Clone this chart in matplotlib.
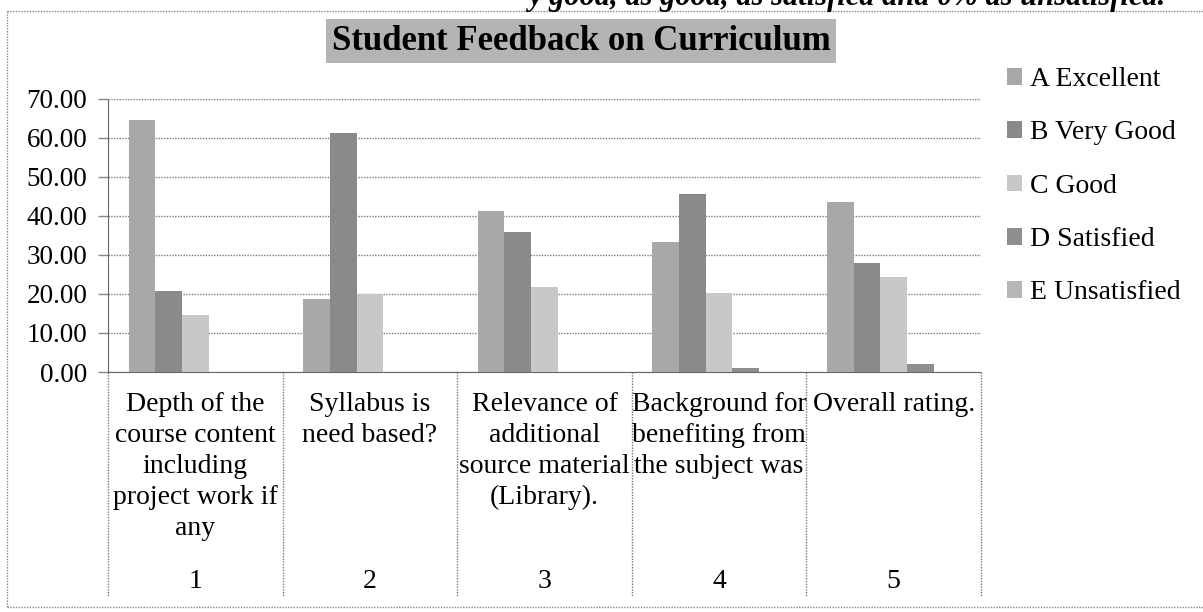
import numpy as np
import matplotlib
matplotlib.use("Agg")
import matplotlib.pyplot as plt
from matplotlib.lines import Line2D
from matplotlib.patches import Patch

plt.rcParams['font.family'] = ['Liberation Serif', 'DejaVu Serif']

# Data
questions = [
    "Depth of the\ncourse content\nincluding\nproject work if\nany",
    "Syllabus is\nneed based?",
    "Relevance of\nadditional\nsource material\n(Library).",
    "Background for\nbenefiting from\nthe subject was",
    "Overall rating.",
]
question_no = ["1", "2", "3", "4", "5"]
series_names = ["A Excellent", "B Very Good", "C Good", "D Satisfied", "E Unsatisfied"]
excellent = [64.6, 18.6, 41.4, 33.3, 43.5]
very_good = [20.7, 61.4, 35.9, 45.6, 27.9]
good = [14.5, 20.1, 21.8, 20.2, 24.4]
satisfied = [0.0, 0.0, 0.0, 1.1, 2.0]
unsatisfied = [0.0, 0.0, 0.0, 0.0, 0.0]
yticks = [0, 10, 20, 30, 40, 50, 60, 70]

values = [excellent, very_good, good, satisfied, unsatisfied]
colors = ['#a8a8a8', '#8a8a8a', '#c8c8c8', '#8e8e8e', '#b6b6b6']

W, H = 1203, 612
fig = plt.figure(figsize=(W / 100, H / 100), dpi=100)

# plot area in pixels
left, right, top, bottom = 108, 981, 99, 372
ax = fig.add_axes([left / W, 1 - bottom / H, (right - left) / W, (bottom - top) / H])

x = np.arange(len(questions))
bw = 0.153
for i, (name, vals) in enumerate(zip(series_names, values)):
    ax.bar(x + (i - 2) * bw, vals, bw, color=colors[i], label=name, zorder=3)

ax.set_xlim(-0.5, len(questions) - 0.5)
ax.set_ylim(0, 70)
ax.set_yticks(yticks)
ax.set_yticklabels(["%.2f" % t for t in yticks], fontsize=19.5)
ax.tick_params(axis='y', length=7, width=1, color='#888888', direction='out', pad=8)
ax.set_xticks([])
ax.yaxis.grid(True, linestyle=(0, (1, 1)), color='#7a7a7a', linewidth=1, zorder=0)
for s in ['top', 'right']:
    ax.spines[s].set_visible(False)
for s in ['left', 'bottom']:
    ax.spines[s].set_linestyle((0, (1, 1)))
    ax.spines[s].set_color('#666666')

# category table below the axis
ah = bottom - top
tr = ax.get_xaxis_transform()
for b in np.arange(-0.5, len(questions), 1.0):
    ax.add_line(Line2D([b, b], [0, -(597 - bottom) / ah], transform=tr, color='#777777',
                       linestyle=(0, (1, 1)), linewidth=1, clip_on=False))
for i, (q, n) in enumerate(zip(questions, question_no)):
    ax.text(i, -(392 - bottom) / ah, q, transform=tr, ha='center', va='top',
            fontsize=20, linespacing=1.32)
    ax.text(i, -(582 - bottom) / ah, n, transform=tr, ha='center', va='center', fontsize=20)

# title with shaded box
fig.text(581 / W, 1 - 41 / H, "Student Feedback on Curriculum", ha='center', va='center',
         fontsize=25, fontweight='bold',
         bbox=dict(boxstyle='square,pad=0.15', facecolor='#b4b4b4', edgecolor='none'))

# legend
handles = [Patch(facecolor=c, edgecolor='none') for c in colors]
fig.legend(handles, series_names, loc='upper left', bbox_to_anchor=(996 / W, 1 - 56 / H),
           frameon=False, fontsize=20, handlelength=0.55, handleheight=0.55,
           handletextpad=0.28, labelspacing=1.02, borderaxespad=0)

# outer frame of the scanned chart
fl = dict(color='#888888', linestyle=(0, (1, 1)), linewidth=1)
fig.add_artist(Line2D([7 / W, 7 / W], [1 - 11 / H, 1 - 607 / H], **fl))
fig.add_artist(Line2D([7 / W, 1], [1 - 11 / H, 1 - 11 / H], **fl))
fig.add_artist(Line2D([7 / W, 1], [1 - 607 / H, 1 - 607 / H], **fl))

# page text cut off at the top of the scan
fig.text(1165 / W, 1 + 2 / H, "y good, as good, as satisfied and 0% as unsatisfied.",
         ha='right', va='center', fontsize=22, fontweight='bold', style='italic')

fig.savefig("out.png", dpi=100)
